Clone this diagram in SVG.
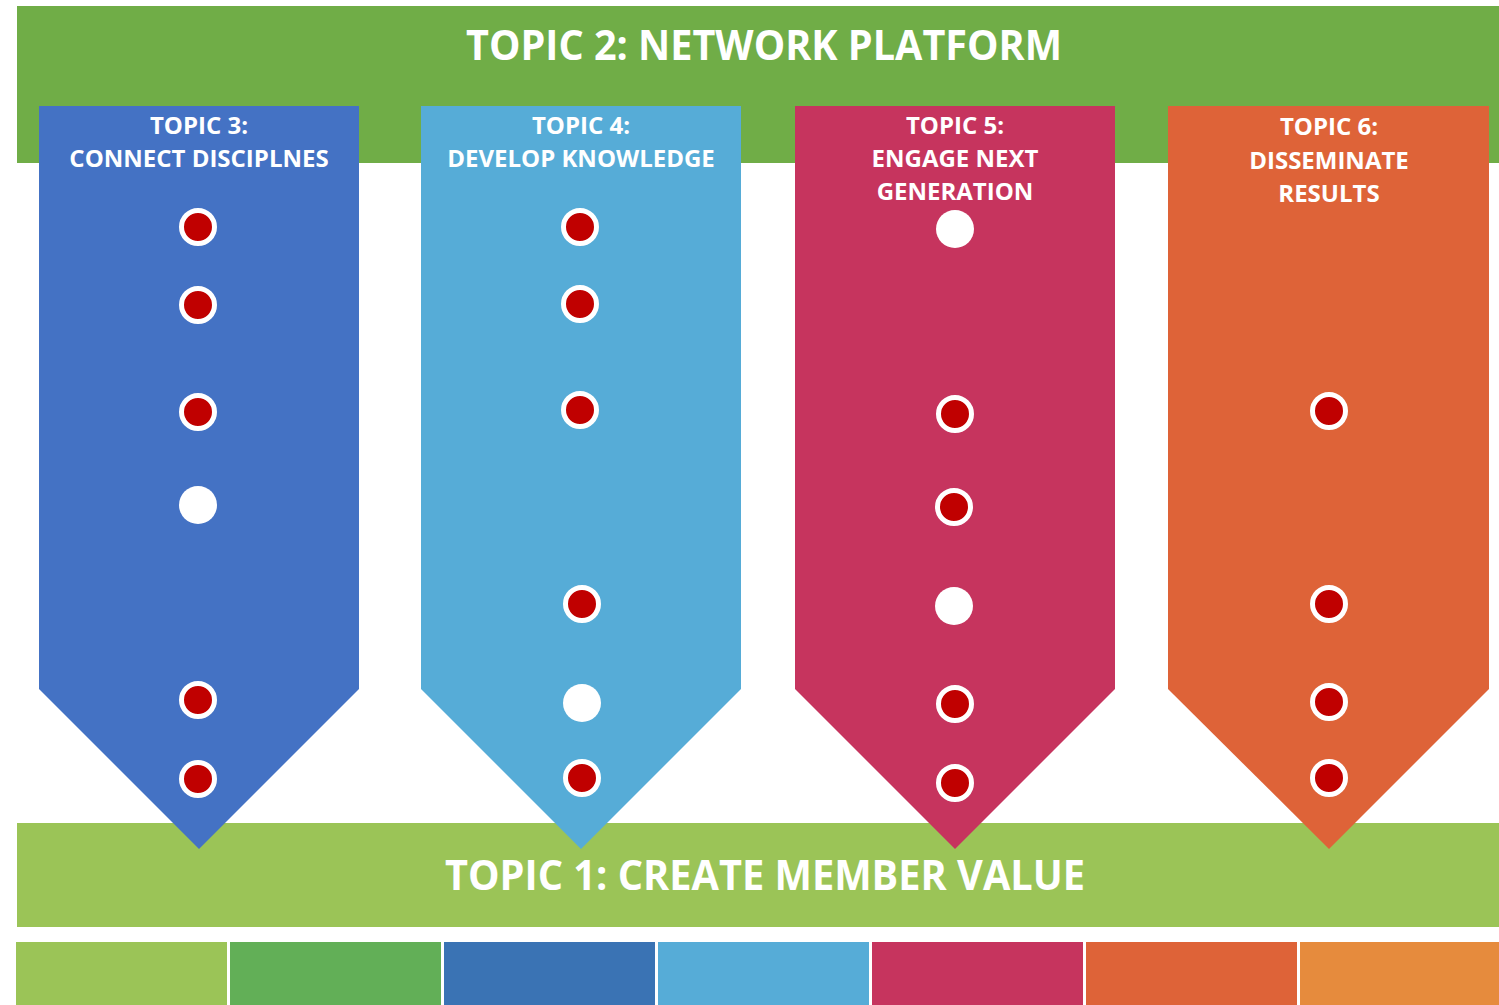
<svg xmlns="http://www.w3.org/2000/svg" width="1499" height="1005" viewBox="0 0 1499 1005">
<style>
.t{font-family:"Open Sans","Liberation Sans",sans-serif;font-weight:bold;fill:#fff;text-anchor:middle}
.h{font-size:41px}
.c{font-size:24px}
.dot{fill:#C00000;stroke:#fff;stroke-width:5}
.wd{fill:#fff}
</style>
<rect width="1499" height="1005" fill="#fff"/>
<g id="topic2">
<rect x="17" y="6" width="1482" height="157" fill="#70AD47"/>
<text class="t h" x="764" y="60" textLength="596" lengthAdjust="spacingAndGlyphs">TOPIC 2: NETWORK PLATFORM</text>
</g>
<g id="topic1">
<rect x="17" y="823" width="1482" height="104" fill="#9BC457"/>
</g>
<g id="topic3">
<polygon points="39,106 359,106 359,689 199,849 39,689" fill="#4472C4"/>
<text class="t c" x="199" y="134">TOPIC 3:</text>
<text class="t c" x="199" y="167">CONNECT DISCIPLNES</text>
<circle class="dot" cx="198" cy="227" r="16.5"/>
<circle class="dot" cx="198" cy="305" r="16.5"/>
<circle class="dot" cx="198" cy="412" r="16.5"/>
<circle class="wd" cx="198" cy="505" r="19"/>
<circle class="dot" cx="198" cy="700" r="16.5"/>
<circle class="dot" cx="198" cy="779" r="16.5"/>
</g>
<g id="topic4">
<polygon points="421,106 741,106 741,689 581,849 421,689" fill="#56ACD7"/>
<text class="t c" x="581" y="134">TOPIC 4:</text>
<text class="t c" x="581" y="167">DEVELOP KNOWLEDGE</text>
<circle class="dot" cx="580" cy="227" r="16.5"/>
<circle class="dot" cx="580" cy="304" r="16.5"/>
<circle class="dot" cx="580" cy="410" r="16.5"/>
<circle class="dot" cx="582" cy="604" r="16.5"/>
<circle class="wd" cx="582" cy="703" r="19"/>
<circle class="dot" cx="582" cy="778" r="16.5"/>
</g>
<g id="topic5">
<polygon points="795,106 1115,106 1115,689 955,849 795,689" fill="#C6345E"/>
<text class="t c" x="955" y="134">TOPIC 5:</text>
<text class="t c" x="955" y="167">ENGAGE NEXT</text>
<text class="t c" x="955" y="200">GENERATION</text>
<circle class="wd" cx="955" cy="229" r="19"/>
<circle class="dot" cx="955" cy="414" r="16.5"/>
<circle class="dot" cx="954" cy="507" r="16.5"/>
<circle class="wd" cx="954" cy="606" r="19"/>
<circle class="dot" cx="955" cy="704" r="16.5"/>
<circle class="dot" cx="955" cy="783" r="16.5"/>
</g>
<g id="topic6">
<polygon points="1168,106 1489,106 1489,689 1329,849 1168,689" fill="#DE6338"/>
<text class="t c" x="1329" y="135">TOPIC 6:</text>
<text class="t c" x="1329" y="169">DISSEMINATE</text>
<text class="t c" x="1329" y="202">RESULTS</text>
<circle class="dot" cx="1329" cy="411" r="16.5"/>
<circle class="dot" cx="1329" cy="604" r="16.5"/>
<circle class="dot" cx="1329" cy="702" r="16.5"/>
<circle class="dot" cx="1329" cy="778" r="16.5"/>
</g>
<g id="topic1-label">
<text class="t h" x="765" y="890" textLength="640" lengthAdjust="spacingAndGlyphs">TOPIC 1: CREATE MEMBER VALUE</text>
</g>
<g id="strip">
<rect x="16" y="942" width="211" height="63" fill="#9BC457"/>
<rect x="230" y="942" width="211" height="63" fill="#62AF57"/>
<rect x="444" y="942" width="211" height="63" fill="#3A73B4"/>
<rect x="658" y="942" width="211" height="63" fill="#56ACD7"/>
<rect x="872" y="942" width="211" height="63" fill="#C6345E"/>
<rect x="1086" y="942" width="211" height="63" fill="#DE6338"/>
<rect x="1300" y="942" width="199" height="63" fill="#E68B3D"/>
</g>
<g id="connectors"></g>
</svg>
